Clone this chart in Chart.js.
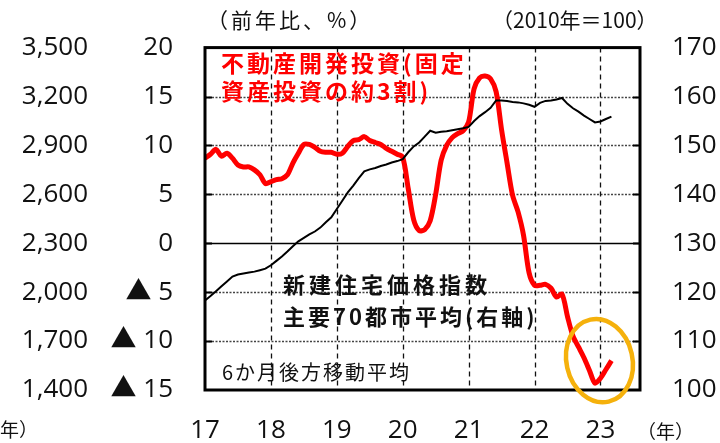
<!DOCTYPE html>
<html>
<head>
<meta charset="utf-8">
<script src="https://cdn.jsdelivr.net/npm/chart.js@4.4.1/dist/chart.umd.min.js"></script>
<style>
  html, body { margin: 0; padding: 0; background: #fff; }
  canvas { display: block; }
</style>
</head>
<body>
<canvas id="grafico" width="720" height="443"></canvas>
<script>
// 月次データ、2017年1月から(6か月後方移動平均)
const anoInicio = 17;

// 不動産開発投資 前年比(%)
const inversion = [
  8.7, 9.1, 9.6, 8.9, 9.2, 8.7, 8.0, 7.8, 7.8, 7.5, 7.0, 6.1,
  6.3, 6.5, 6.6, 7.0, 8.2, 9.2, 10.1, 10.1, 9.8, 9.4, 9.3, 9.3,
  9.1, 9.2, 9.9, 10.5, 10.6, 10.9, 10.5, 10.3, 10.1, 9.7, 9.4, 9.1,
  8.8, 5.6, 2.4, 1.3, 1.4, 2.3, 5.0, 8.5, 10.0, 10.8, 11.2, 11.5,
  12.4, 15.8, 16.9, 17.1, 16.8, 15.5, 11.6, 8.2, 4.9, 3.2, 0.8, -3.0,
  -4.3, -4.3, -4.2, -4.6, -5.5, -5.2, -7.5, -9.5, -10.6, -11.7, -13.0, -14.3,
  -13.8, -12.9, -12.0
];

// 新建住宅価格指数 主要70都市平均 (2010年=100)
const precios = [
  118.3, 119.2, 120.2, 121.2, 122.2, 123.2, 123.6, 123.8, 124.0, 124.2, 124.5, 124.8,
  125.5, 126.4, 127.3, 128.3, 129.4, 130.4, 131.1, 131.8, 132.4, 133.2, 134.3, 135.3,
  137.0, 138.7, 140.4, 141.8, 143.3, 144.7, 145.1, 145.4, 145.8, 146.1, 146.5, 146.8,
  147.2, 148.6, 149.8, 150.6, 151.8, 153.0, 152.6, 152.8, 152.9, 153.1, 153.3, 153.5,
  153.8, 155.0, 156.0, 156.8, 157.7, 159.2, 159.2, 159.1, 158.9, 158.8, 158.6, 158.3,
  157.9, 158.7, 159.1, 159.2, 159.4, 159.7, 158.5, 157.6, 156.9, 156.1, 155.4, 154.7,
  154.9, 155.4, 155.9
];

// 軸
const ejeX = { min: 17, max: 23.6, paso: 1 };
const ejeIzq = { min: -15, max: 20, paso: 5 };
const ejeDer = { min: 100, max: 170, paso: 10 };
const ejeExtra = { min: 1400, max: 3500, paso: 300 };

const fuenteNum = "'Open Sans', 'Noto Sans CJK JP', sans-serif";
const fuenteJp = "'Noto Sans CJK JP', sans-serif";

function aPuntos(serie) {
  return serie.map((v, i) => ({ x: anoInicio + i / 12, y: v }));
}

function texto(ctx, t, x, y, font, color, espacio) {
  ctx.save();
  ctx.font = font;
  ctx.fillStyle = color;
  ctx.textBaseline = 'middle';
  ctx.textAlign = 'left';
  ctx.letterSpacing = (espacio || 0) + 'px';
  ctx.fillText(t, x, y);
  ctx.restore();
}

// grid y marco
const rejilla = {
  id: 'rejilla',
  beforeDatasetsDraw(chart) {
    const { ctx, chartArea: a, scales } = chart;
    const sy = scales.y, sx = scales.x;
    ctx.save();
    for (let v = ejeIzq.min + ejeIzq.paso; v < ejeIzq.max; v += ejeIzq.paso) {
      const py = Math.round(sy.getPixelForValue(v)) + 0.5;
      ctx.beginPath();
      if (v === 0) {
        ctx.strokeStyle = '#000';
        ctx.lineWidth = 1.6;
        ctx.setLineDash([]);
      } else {
        ctx.strokeStyle = '#444';
        ctx.lineWidth = 1.5;
        ctx.setLineDash([2, 1.5]);
      }
      ctx.moveTo(a.left, py);
      ctx.lineTo(a.right, py);
      ctx.stroke();
      // marcas cortas
      ctx.setLineDash([]);
      ctx.strokeStyle = '#000';
      ctx.lineWidth = 2;
      ctx.beginPath();
      ctx.moveTo(a.left, py); ctx.lineTo(a.left + 7, py);
      ctx.moveTo(a.right - 7, py); ctx.lineTo(a.right, py);
      ctx.stroke();
    }
    ctx.strokeStyle = '#111';
    ctx.lineWidth = 1.3;
    ctx.setLineDash([5, 4]);
    for (let v = ejeX.min + 1; v < ejeX.max; v += ejeX.paso) {
      const px = Math.round(sx.getPixelForValue(v)) + 0.5;
      ctx.beginPath();
      ctx.moveTo(px, a.top);
      ctx.lineTo(px, a.bottom);
      ctx.stroke();
    }
    ctx.restore();
  },
  afterDatasetsDraw(chart) {
    const { ctx, chartArea: a, scales } = chart;
    ctx.save();
    ctx.strokeStyle = '#000';
    ctx.lineWidth = 3;
    ctx.strokeRect(a.left, a.top, a.right - a.left, a.bottom - a.top);

    // circulo naranja
    const cx = scales.x.getPixelForValue(23);
    const cy = scales.y.getPixelForValue(-12);
    ctx.strokeStyle = '#F5B10C';
    ctx.lineWidth = 4.5;
    ctx.beginPath();
    ctx.ellipse(cx - 1, cy, 33, 42, -0.22, 0, Math.PI * 2);
    ctx.stroke();
    ctx.restore();

    // textos
    texto(ctx, '（前年比、%）', 207, 20, '21px ' + fuenteJp, '#111', 3);
    texto(ctx, '（2010年＝100）', 492, 20, '21px ' + fuenteJp, '#111', 0);
    texto(ctx, '不動産開発投資(固定', 221, 63, 'bold 23px ' + fuenteJp, '#FF0000', 3);
    texto(ctx, '資産投資の約3割)', 221, 91, 'bold 23px ' + fuenteJp, '#FF0000', 3);
    texto(ctx, '新建住宅価格指数', 283, 285, 'bold 22px ' + fuenteJp, '#111', 4);
    texto(ctx, '主要70都市平均(右軸)', 283, 317, 'bold 22px ' + fuenteJp, '#111', 3);
    texto(ctx, '6か月後方移動平均', 222, 372, '20px ' + fuenteJp, '#111', 2);
    texto(ctx, '（年）', 637, 432, '19px ' + fuenteJp, '#111', 0);
    texto(ctx, '（年）', -19, 430, '19px ' + fuenteJp, '#111', 0);
  }
};

const fuenteTick = { family: fuenteNum, size: 26 };

new Chart(document.getElementById('grafico').getContext('2d'), {
  type: 'line',
  data: {
    datasets: [
      {
        label: '新建住宅価格指数',
        data: aPuntos(precios),
        yAxisID: 'y2',
        borderColor: '#000',
        borderWidth: 2,
        pointRadius: 0,
        tension: 0
      },
      {
        label: '不動産開発投資',
        data: aPuntos(inversion),
        yAxisID: 'y',
        borderColor: '#FF0000',
        borderWidth: 5,
        pointRadius: 0,
        tension: 0.3,
        borderJoinStyle: 'round'
      }
    ]
  },
  options: {
    responsive: false,
    animation: false,
    devicePixelRatio: 1,
    layout: { padding: { top: 38, left: 0, right: 0, bottom: 0 } },
    plugins: { legend: { display: false }, tooltip: { enabled: false } },
    scales: {
      x: {
        type: 'linear',
        position: 'bottom',
        min: ejeX.min,
        max: ejeX.max,
        grid: { display: false, drawTicks: false },
        border: { display: false },
        ticks: {
          stepSize: ejeX.paso,
          includeBounds: false,
          autoSkip: false,
          maxRotation: 0,
          padding: 25,
          color: '#111',
          font: fuenteTick,
          callback: v => Number.isInteger(v) ? String(v) : ''
        },
        afterFit: s => { s.height = 53; }
      },
      y: {
        position: 'left',
        weight: 0,
        min: ejeIzq.min,
        max: ejeIzq.max,
        grid: { display: false, drawTicks: false },
        border: { display: false },
        ticks: {
          stepSize: ejeIzq.paso,
          padding: 32,
          color: '#111',
          font: fuenteTick,
          callback: v => v < 0 ? '▲ ' + Math.abs(v) : String(v)
        },
        afterFit: s => { s.width = 105; }
      },
      y3: {
        position: 'left',
        weight: 1,
        min: ejeExtra.min,
        max: ejeExtra.max,
        grid: { display: false, drawTicks: false },
        border: { display: false },
        ticks: {
          stepSize: ejeExtra.paso,
          padding: 12,
          color: '#111',
          font: fuenteTick,
          callback: v => v.toLocaleString('en-US')
        },
        afterFit: s => { s.width = 100; }
      },
      y2: {
        position: 'right',
        min: ejeDer.min,
        max: ejeDer.max,
        grid: { display: false, drawTicks: false },
        border: { display: false },
        ticks: {
          stepSize: ejeDer.paso,
          padding: 32,
          color: '#111',
          font: fuenteTick,
          callback: v => String(v)
        },
        afterFit: s => { s.width = 80; }
      }
    }
  },
  plugins: [rejilla]
});
</script>
</body>
</html>
